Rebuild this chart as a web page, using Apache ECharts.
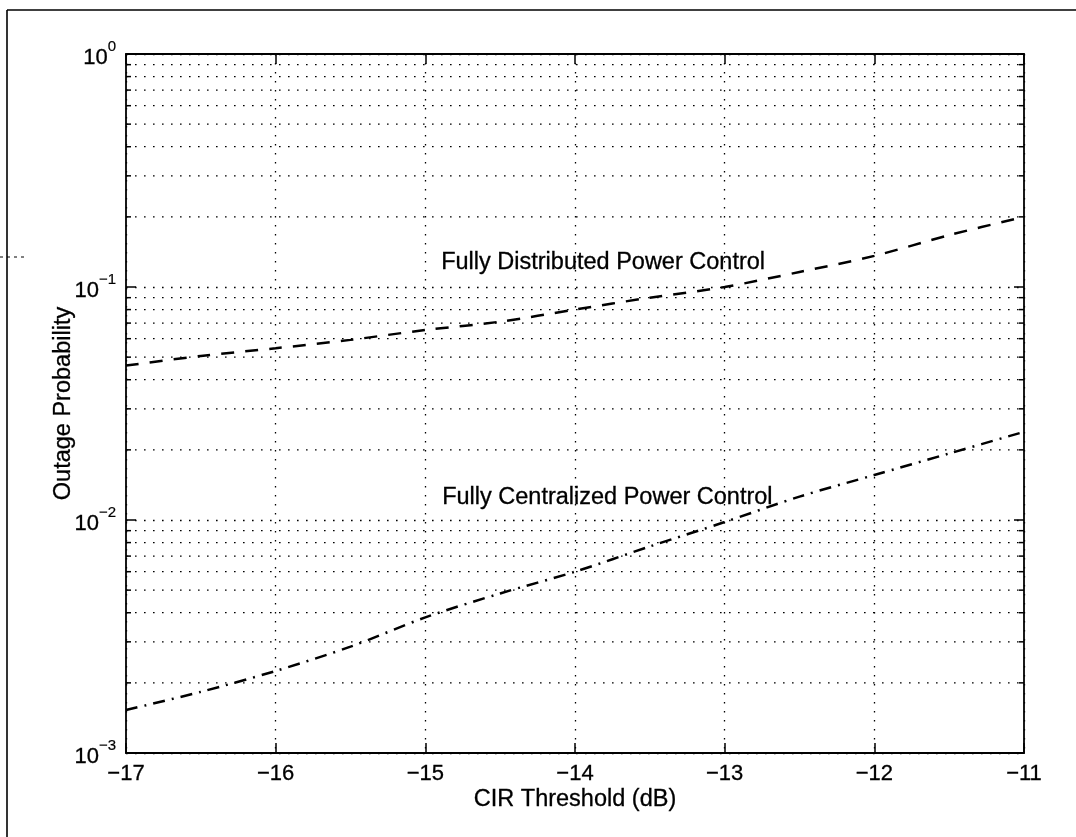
<!DOCTYPE html>
<html>
<head>
<meta charset="utf-8">
<script src="https://cdn.jsdelivr.net/npm/echarts@6/dist/echarts.min.js"></script>
<style>
  html, body { margin: 0; padding: 0; background: #fff; }
  #chart { width: 1076px; height: 837px; }
</style>
</head>
<body>
<div id="chart"></div>
<script>
// ---- data ----
const cirThreshold = [-17, -16.5, -16, -15.5, -15, -14.5, -14, -13.5, -13, -12.5, -12, -11.5, -11];
const distributed  = [0.046, 0.0506, 0.0546, 0.0593, 0.0654, 0.071, 0.080, 0.090, 0.100, 0.116, 0.136, 0.167, 0.200];
const centralized  = [0.00153, 0.00183, 0.00225, 0.00286, 0.00382, 0.00484, 0.0060, 0.0077, 0.0098, 0.0126, 0.0156, 0.0193, 0.0239];
const xTickValues  = [-17, -16, -15, -14, -13, -12, -11];
const yDecades     = [0.001, 0.01, 0.1, 1];
const yMinorValues = [0.002, 0.003, 0.004, 0.005, 0.006, 0.007, 0.008, 0.009,
                      0.02, 0.03, 0.04, 0.05, 0.06, 0.07, 0.08, 0.09,
                      0.2, 0.3, 0.4, 0.5, 0.6, 0.7, 0.8, 0.9];
const seriesNames  = ['Fully Distributed Power Control', 'Fully Centralized Power Control'];
const xTitle = 'CIR Threshold (dB)';
const yTitle = 'Outage Probability';

const FONT = '"Liberation Sans", Arial, Helvetica, sans-serif';
const DOT = [1.6, 7.4];
const xMin = xTickValues[0], xMax = xTickValues[xTickValues.length - 1];

const chart = echarts.init(document.getElementById('chart'), null, { renderer: 'canvas' });

function supLabel(v) {
  const e = Math.round(Math.log10(v));
  return '{b|10}{s|' + (e === 0 ? '0' : '\u2212' + (-e)) + '}';
}

const option = {
  backgroundColor: '#ffffff',
  animation: false,
  textStyle: { fontFamily: FONT, color: '#000' },
  grid: { left: 126, right: 52, top: 54, bottom: 84, containLabel: false },
  xAxis: [{
    type: 'value', min: xMin, max: xMax, interval: 1,
    position: 'bottom',
    name: xTitle, nameLocation: 'middle', nameGap: 35, nameMoveOverlap: false,
    nameTextStyle: { fontFamily: FONT, fontSize: 23.5, color: '#000', textBorderColor: '#000', textBorderWidth: 0.3 },
    axisLine: { lineStyle: { color: '#000', width: 1.8 } },
    axisTick: { inside: true, length: 10, lineStyle: { color: '#000', width: 1.5 } },
    axisLabel: { fontFamily: FONT, fontSize: 22, color: '#000', margin: 10, textBorderColor: '#000', textBorderWidth: 0.3,
      formatter: v => (v < 0 ? '\u2212' : '') + Math.abs(v) },
    splitLine: { show: true, lineStyle: { color: '#000', width: 1.3, type: DOT } }
  }, {
    type: 'value', min: xMin, max: xMax, interval: 1,
    position: 'top',
    axisLine: { lineStyle: { color: '#000', width: 1.8 } },
    axisTick: { inside: true, length: 10, lineStyle: { color: '#000', width: 1.5 } },
    axisLabel: { show: false },
    splitLine: { show: false }
  }],
  yAxis: [{
    type: 'log', logBase: 10, min: yDecades[0], max: yDecades[yDecades.length - 1],
    position: 'left',
    name: yTitle, nameLocation: 'middle', nameGap: 50, nameRotate: 90, nameMoveOverlap: false,
    nameTextStyle: { fontFamily: FONT, fontSize: 23.5, color: '#000', textBorderColor: '#000', textBorderWidth: 0.3 },
    axisLine: { lineStyle: { color: '#000', width: 1.8 } },
    axisTick: { inside: true, length: 10, lineStyle: { color: '#000', width: 1.5 } },
    axisLabel: {
      margin: 10, formatter: supLabel,
      rich: {
        b: { fontFamily: FONT, fontSize: 22, color: '#000', lineHeight: 30, verticalAlign: 'bottom', textBorderColor: '#000', textBorderWidth: 0.3 },
        s: { fontFamily: FONT, fontSize: 15, color: '#000', lineHeight: 15, verticalAlign: 'top', textBorderColor: '#000', textBorderWidth: 0.2 }
      }
    },
    splitLine: { show: true, lineStyle: { color: '#000', width: 1.3, type: DOT } }
  }, {
    type: 'log', logBase: 10, min: yDecades[0], max: yDecades[yDecades.length - 1],
    position: 'right',
    axisLine: { lineStyle: { color: '#000', width: 1.8 } },
    axisTick: { inside: true, length: 10, lineStyle: { color: '#000', width: 1.5 } },
    axisLabel: { show: false },
    splitLine: { show: false }
  }],
  series: [
    {
      // minor log gridlines + minor ticks on both sides
      type: 'custom', xAxisIndex: 0, yAxisIndex: 0, silent: true, clip: false, z: 1,
      data: yMinorValues.map(v => [xMin, v]),
      renderItem: function (params, api) {
        const v = api.value(1);
        const pL = api.coord([xMin, v]);
        const pR = api.coord([xMax, v]);
        return {
          type: 'group',
          children: [
            { type: 'line', shape: { x1: pL[0], y1: pL[1], x2: pR[0], y2: pR[1] },
              style: { stroke: '#000', lineWidth: 1.3, lineDash: DOT } },
            { type: 'line', shape: { x1: pL[0], y1: pL[1], x2: pL[0] + 5, y2: pL[1] },
              style: { stroke: '#000', lineWidth: 1.5 } },
            { type: 'line', shape: { x1: pR[0] - 5, y1: pR[1], x2: pR[0], y2: pR[1] },
              style: { stroke: '#000', lineWidth: 1.5 } }
          ]
        };
      }
    },
    {
      name: seriesNames[0], type: 'line', xAxisIndex: 0, yAxisIndex: 0,
      data: cirThreshold.map((x, i) => [x, distributed[i]]),
      showSymbol: false, smooth: 0.3, z: 5,
      lineStyle: { color: '#000', width: 2.5, type: [13, 11] }
    },
    {
      name: seriesNames[1], type: 'line', xAxisIndex: 0, yAxisIndex: 0,
      data: cirThreshold.map((x, i) => [x, centralized[i]]),
      showSymbol: false, smooth: 0.3, z: 5,
      lineStyle: { color: '#000', width: 2.5, type: [12, 7, 2, 7] }
    }
  ],
  graphic: [
    { type: 'text', left: 441, top: 250, z: 10,
      style: { text: seriesNames[0], font: '23.5px ' + FONT, fill: '#000', stroke: '#000', lineWidth: 0.3 } },
    { type: 'text', left: 442, top: 485, z: 10,
      style: { text: seriesNames[1], font: '23.5px ' + FONT, fill: '#000', stroke: '#000', lineWidth: 0.3 } },
    // scanned page frame
    { type: 'line', shape: { x1: 7, y1: 10, x2: 1076, y2: 10 }, style: { stroke: '#000', lineWidth: 1.6 } },
    { type: 'line', shape: { x1: 7, y1: 10, x2: 7, y2: 837 }, style: { stroke: '#000', lineWidth: 1.6 } },
    { type: 'line', shape: { x1: 0, y1: 257, x2: 28, y2: 257 }, style: { stroke: '#000', lineWidth: 1, lineDash: [3, 4] } }
  ]
};

chart.setOption(option);
</script>
</body>
</html>
